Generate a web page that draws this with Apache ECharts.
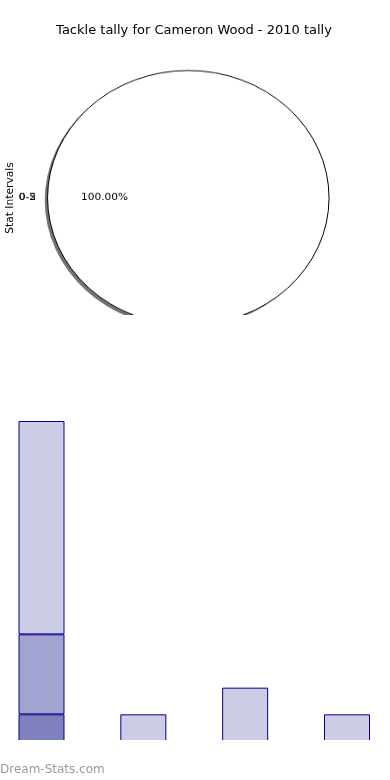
<!DOCTYPE html>
<html>
<head>
<meta charset="utf-8">
<script src="https://cdn.jsdelivr.net/npm/echarts@6/dist/echarts.min.js"></script>
<style>
  html, body { margin: 0; padding: 0; background: #fff; }
  #wrap { position: relative; width: 390px; height: 780px; overflow: hidden; }
  #main { position: absolute; left: 0; top: 0; width: 390px; height: 780px; }
  #pie { position: absolute; left: 0; top: 0; width: 390px; height: 347.5px;
         transform: scaleY(0.905); transform-origin: 0 0; }
</style>
</head>
<body>
<div id="wrap">
  <div id="main"></div>
  <div id="pie"></div>
</div>
<script>
// ---- data ----
const chartTitle = 'Tackle tally for Cameron Wood - 2010 tally';
const pieAxisLabel = 'Stat Intervals';
const pieNames = ['0-5', '0-2'];
const pieValues = [1, 0];

const barCategories = ['Bin 1', 'Bin 2', 'Bin 3', 'Bin 4'];
const seriesDark = [1, 0, 0, 0];
const seriesMid = [3, 0, 0, 0];
const seriesLight = [8, 1, 2, 1];
const watermark = 'Dream-Stats.com';

const FONT = 'DejaVu Sans';
const EDGE = '#000080';

// ---- main chart: title, bars, texts ----
const main = echarts.init(document.getElementById('main'), null, { renderer: 'canvas' });
function barSeries(name, values, color) {
  return {
    name: name, type: 'bar', stack: 'tally', data: values,
    barWidth: 46, clip: false, silent: true,
    itemStyle: { color: color, borderColor: EDGE, borderWidth: 1 }
  };
}
main.setOption({
  animation: false,
  backgroundColor: '#fff',
  title: {
    text: chartTitle, left: 194, top: 24, padding: 0, textAlign: 'center',
    textStyle: { fontFamily: FONT, fontSize: 13, fontWeight: 'normal', color: '#000' }
  },
  grid: { left: 41.5, right: 43, top: 421, bottom: 39, containLabel: false },
  xAxis: { type: 'category', data: barCategories, boundaryGap: false, show: false },
  yAxis: { type: 'value', min: 0, max: 12, show: false },
  series: [
    barSeries('dark', seriesDark, '#8080bf'),
    barSeries('mid', seriesMid, '#a3a3d1'),
    barSeries('light', seriesLight, '#ccccE6')
  ],
  graphic: [
    { type: 'rect', z: 100, shape: { x: 0, y: 740, width: 390, height: 8 },
      style: { fill: '#fff' }, silent: true },
    { type: 'text', x: 10, y: 198, rotation: Math.PI / 2,
      style: { text: pieAxisLabel, fontFamily: FONT, fontSize: 10.7, fill: '#000',
               textAlign: 'center', textVerticalAlign: 'middle' } },
    { type: 'text', x: 0, y: 770,
      style: { text: watermark, fontFamily: FONT, fontSize: 12, fill: '#999',
               textAlign: 'left', textVerticalAlign: 'middle' } }
  ]
});

// ---- pie (elliptical via vertical scale of its container) ----
const pie = echarts.init(document.getElementById('pie'), null, { renderer: 'canvas' });
const pieCenter = [188.3, 218.6];
const pieRadius = 140.75;
const labelFont = { fontFamily: FONT, fontSize: 10.6, color: '#000' };
pie.setOption({
  animation: false,
  series: [
    { // filled wedge with drop shadow and percentage label
      type: 'pie', center: pieCenter, radius: [0, pieRadius], startAngle: 0,
      avoidLabelOverlap: false, silent: true, z: 1,
      labelLayout: { hideOverlap: false },
      data: [{ name: pieNames[0], value: pieValues[0] }],
      itemStyle: { color: '#fff', borderWidth: 0,
                   shadowColor: 'rgba(0,0,0,0.55)', shadowBlur: 0,
                   shadowOffsetX: -2.8, shadowOffsetY: 2.8 },
      label: Object.assign({ show: true, position: 'inside', padding: [4, 20.8, 0, 0],
               formatter: p => p.percent.toFixed(2) + '%' }, labelFont),
      labelLine: { show: false }
    },
    { // outline and outer name label
      type: 'pie', center: pieCenter, radius: [0, pieRadius], startAngle: 0,
      avoidLabelOverlap: false, silent: true, z: 2,
      labelLayout: { hideOverlap: false },
      data: [{ name: pieNames[0], value: pieValues[0] }],
      itemStyle: { color: 'rgba(0,0,0,0)', borderColor: '#000', borderWidth: 1 },
      label: Object.assign({ show: true, position: 'outside', distanceToLabelLine: 5,
               padding: [4, 0, 0, 0], formatter: '{b}' }, labelFont),
      labelLine: { show: false, length: 6.5, length2: 0 }
    },
    { // zero-sized second wedge; its name label lands on the same spot (as in the original)
      type: 'pie', center: pieCenter, radius: [0, pieRadius], startAngle: 180, minAngle: 0.2,
      avoidLabelOverlap: false, silent: true, z: 3,
      labelLayout: { hideOverlap: false },
      data: [
        { name: pieNames[1], value: pieValues[1] },
        { name: pieNames[0], value: pieValues[0], label: { show: false } }
      ],
      itemStyle: { color: 'rgba(0,0,0,0)', borderWidth: 0 },
      label: Object.assign({ show: true, position: 'outside', distanceToLabelLine: 5,
               padding: [4, 0, 0, 0], formatter: '{b}' }, labelFont),
      labelLine: { show: false, length: 6.5, length2: 0 }
    }
  ]
});
</script>
</body>
</html>
